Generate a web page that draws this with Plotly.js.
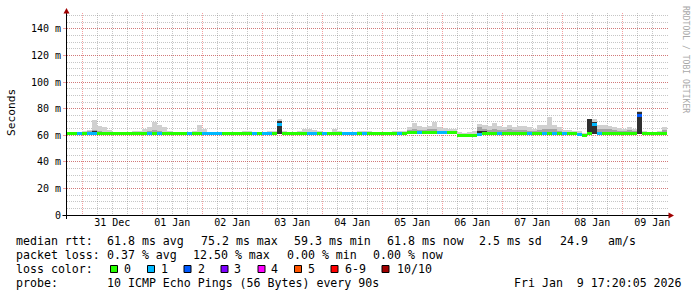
<!DOCTYPE html>
<html><head><meta charset="utf-8">
<script src="https://cdn.plot.ly/plotly-3.0.1.min.js"></script>
<style>html,body{margin:0;padding:0;background:#fff;}#chart{width:697px;height:297px;}</style>
</head><body><div id="chart"></div>
<script>
// ---- data (2-hour bins starting 2025-12-30 18:00) ----
const binStart = Date.UTC(2025, 11, 30, 18, 0, 0);
const binMs = 2 * 3600 * 1000;

const medianRtt = [
 61.5,61.5,61.5,61.5,61.5,61.5,61.5,61.5,61.5,61.5,
 61.5,61.5,61.5,61.5,61.5,61.5,61.5,61.5,61.5,61.5,
 61.5,61.5,61.5,61.5,61.5,61.5,61.5,61.5,61.5,61.5,
 61.5,61.5,61.5,61.5,61.5,61.5,61.5,61.5,61.5,61.5,
 61.5,61.5,68,61.5,61.5,61.5,61.5,61.5,61.5,61.5,
 61.5,61.5,61.5,61.5,61.5,61.5,61.5,61.5,61.5,61.5,
 61.5,61.5,61.5,61.5,61.5,61.5,61.5,61.5,62,62,
 62,62,62,62,62,62,62,62,59.5,59.5,
 59.5,60,60.5,61,61.5,61.5,61.5,61.5,61.5,61.5,
 61.5,61.5,61.5,61.5,61.5,61.5,61.5,61.5,61.5,61.5,
 61.5,61.5,60.5,59.5,61,68,61.5,61.5,61.5,61.5,
 61.5,61.5,61.5,61.5,75.2,61.5,61.5,61.5,61.5,61.5
];
const lossCount = [
 0,0,1,0,1,1,0,0,0,0,
 0,0,0,0,0,0,1,0,1,0,
 0,0,0,0,1,0,0,1,1,1,
 1,0,0,0,0,0,0,1,0,1,
 1,0,1,0,0,0,0,0,1,1,
 0,1,0,0,0,1,1,1,0,1,
 0,0,0,0,0,0,1,0,0,0,
 1,0,0,0,1,1,0,0,0,0,
 0,0,1,0,0,0,1,0,0,0,
 0,0,1,0,0,1,0,1,0,1,
 0,0,1,0,0,1,1,0,0,0,
 0,0,0,0,2,0,0,0,0,0
];
const pingMin = [
 61,61,61,61,61,61,61,61,61,61,
 61,61,61,61,61,61,61,61,61,61,
 61,61,61,61,61,61,61,61,61,61,
 61,61,61,61,61,61,61,61,61,61,
 61,61,61,61,61,61,61,61,61,61,
 61,61,61,61,61,61,61,61,61,61,
 61,61,61,61,61,61,61,61,61,61,
 61,61,61,61,61,61,61,61,59,59,
 59,59.5,60,60.5,61,61,61,61,61,61,
 61,61,61,61,61,61,61,61,61,61,
 61,61,60,59,61,61,61,61,61,61,
 61,61,61,61,61,61,61,61,61,61
];
const smokeMax = [
 null,null,62.5,63.5,64,71.5,67,66,64,null,
 null,null,null,63,63,65,66.5,70,68,66,
 63,null,null,null,null,63,67.5,65,null,null,
 null,null,null,null,null,63.5,63.5,null,null,null,
 63,63,72,63,null,null,63.5,64.5,64.5,64,
 63,null,null,64.5,63,null,null,null,63,63.5,
 63.5,null,null,null,null,63,63,63.5,66,69.5,
 67,66.5,67,70,66,65.5,65,64.5,62.5,62,
 62.5,63,68.5,68,67,69.5,67,66.5,68,66.5,
 67,67,66,65,67.5,68,73.5,68,66,64,
 64,63.5,63,62,72,72,68,67.5,67,66.5,
 65.5,65,66,65,78,63,null,null,63.5,66.5
];
const smokeMid = [
 null,null,null,null,63,64,63.5,null,null,null,
 null,null,null,null,null,null,63.5,64,63,null,
 null,null,null,null,null,null,null,null,null,null,
 null,null,null,null,null,null,null,null,null,null,
 null,null,70,null,null,null,null,null,null,null,
 null,null,null,null,null,null,null,null,null,null,
 null,null,null,null,null,null,null,null,64,64.5,
 64,64,64.5,65,63.5,63.5,63.5,63,null,null,
 null,null,66,65,64,64.5,64,64,64.5,64,
 64,64,63.5,63.5,64,64.5,65,64.5,63.5,null,
 null,null,null,null,70,70,65,64.5,64.5,64,
 63.5,63.5,64,63.5,76,null,null,null,null,64
];
const smokeDark = [
 null,null,null,null,null,63,null,null,null,null,
 null,null,null,null,null,null,null,null,null,null,
 null,null,null,null,null,null,null,null,null,null,
 null,null,null,null,null,null,null,null,null,null,
 null,null,71,null,null,null,null,null,null,null,
 null,null,null,null,null,null,null,null,null,null,
 null,null,null,null,null,null,null,null,null,null,
 null,null,null,null,null,null,null,null,null,null,
 null,null,63,63,null,null,null,null,null,null,
 null,null,null,null,null,null,null,null,null,null,
 null,null,null,null,72,70,null,null,null,null,
 null,null,null,null,77.5,null,null,null,null,null
];

const yTickVals = [0,20,40,60,80,100,120,140];
const yTickText = ['0','20 m','40 m','60 m','80 m','100 m','120 m','140 m'];

const lossLabels = ['0','1','2','3','4','5','6-9','10/10'];
const lossColors = ['#26ff00','#00b8ff','#0059ff','#7e00ff','#ff00ff','#ff5500','#ff0000','#a10000'];

const rttLabel = 'median rtt:';
const rttStats = ['61.8 ms avg','75.2 ms max','59.3 ms min','61.8 ms now','2.5 ms sd','24.9','am/s'];
const lossLabel = 'packet loss:';
const lossStats = ['0.37 % avg','12.50 % max','0.00 % min','0.00 % now'];
const colorLabel = 'loss color:';
const probeLabel = 'probe:';
const probeText = '10 ICMP Echo Pings (56 Bytes) every 90s';
const dateText = 'Fri Jan  9 17:20:05 2026';
const creditText = 'RRDTOOL / TOBI OETIKER';
const yTitle = 'Seconds';

// ---- helpers ----
const L = 67, T = 13, W = 601, H = 202;
const px = x => (x - L) / W;
const py = y => (T + H - y) / H;
const nb = s => s.replace(/ /g, '\u00a0');
const mono = 'DejaVu Sans Mono, monospace';

const xs = medianRtt.map((_, i) => binStart + i * binMs + binMs / 2);
const lossIdx = n => n === 0 ? 0 : n <= 5 ? n : n < 10 ? 6 : 7;

function smokeTrace(top, color) {
  return {
    type: 'bar', x: xs,
    y: top.map((v, i) => v == null ? null : v - pingMin[i]),
    base: pingMin, width: binMs,
    marker: {color: color, line: {width: 0}},
    hoverinfo: 'skip', showlegend: false
  };
}
const LINE_MS = 2.3;
const traces = [
  smokeTrace(smokeMax, '#d0d0d0'),
  smokeTrace(smokeMid, '#a4a4a4'),
  smokeTrace(smokeDark, '#303030'),
  {
    type: 'bar', x: xs,
    y: medianRtt.map(() => LINE_MS),
    base: medianRtt.map(v => v - LINE_MS / 2),
    width: binMs,
    marker: {color: lossCount.map(n => lossColors[lossIdx(n)]), line: {width: 0}},
    hoverinfo: 'skip', showlegend: false
  },
  {type: 'scatter', x: [], y: [], xaxis: 'x2', showlegend: false}
];

const xRange = [Date.UTC(2025, 11, 30, 17, 53), Date.UTC(2026, 0, 9, 18, 17)];
const majorGrid = 'rgba(230,0,0,0.38)';
const minorGrid = 'rgba(120,120,120,0.42)';

const ann = [];
function txt(text, x, y, size, extra) {
  ann.push(Object.assign({
    text: nb(text), xref: 'paper', yref: 'paper', x: px(x), y: py(y),
    xanchor: 'left', yanchor: 'middle', showarrow: false, borderpad: 0,
    font: {family: mono, size: size || 11.6, color: '#000'}
  }, extra || {}));
}
const rowY = [241.5, 255.2, 269.2, 283];
txt(rttLabel, 15, rowY[0]);
[106, 199.5, 292.5, 385.5, 478.5, 558.5, 606.5].forEach((x, i) => txt(rttStats[i], x, rowY[0]));
txt(lossLabel, 15, rowY[1]);
[106, 192, 285.5, 371.5].forEach((x, i) => txt(lossStats[i], x, rowY[1]));
txt(colorLabel, 15, rowY[2]);
const boxX = [110.5, 147.5, 184, 221, 258, 294.5, 331, 382];
const boxLabelX = [122.5, 160, 196.5, 233.5, 270, 306.5, 343.5, 395.5];
lossLabels.forEach((s, i) => txt(s, boxLabelX[i], rowY[2]));
txt(probeLabel, 15, rowY[3]);
txt(probeText, 106, rowY[3]);
txt(dateText, 512.5, rowY[3]);
txt(yTitle, 11, 113, 11.2, {xanchor: 'center', textangle: -90});
txt(creditText, 686, 59, 8.1, {xanchor: 'center', textangle: 90, font: {family: mono, size: 8.1, color: '#a8a8a8'}});

const shapes = [];
lossColors.forEach((c, i) => {
  shapes.push({type: 'rect', xref: 'paper', yref: 'paper',
    x0: px(boxX[i]), x1: px(boxX[i] + 7), y0: py(265.5), y1: py(272.5),
    fillcolor: c, line: {color: '#000', width: 1}});
});
// axis lines and arrows
shapes.push({type: 'line', xref: 'paper', yref: 'paper', x0: px(62.5), x1: px(669), y0: py(215.5), y1: py(215.5), line: {color: '#000', width: 1}});
shapes.push({type: 'line', xref: 'paper', yref: 'paper', x0: px(66.5), x1: px(66.5), y0: py(219), y1: py(12), line: {color: '#000', width: 1}});
shapes.push({type: 'path', xref: 'paper', yref: 'paper', fillcolor: '#a00000', line: {width: 0},
  path: `M ${px(668.5)} ${py(212.5)} L ${px(674)} ${py(215.5)} L ${px(668.5)} ${py(218.5)} Z`});
shapes.push({type: 'path', xref: 'paper', yref: 'paper', fillcolor: '#a00000', line: {width: 0},
  path: `M ${px(63.5)} ${py(13.5)} L ${px(66.5)} ${py(8)} L ${px(69.5)} ${py(13.5)} Z`});

const layout = {
  width: 697, height: 297,
  margin: {l: L, r: 697 - L - W, t: T, b: 297 - T - H, pad: 0},
  paper_bgcolor: '#fff', plot_bgcolor: '#fff',
  barmode: 'overlay', bargap: 0, showlegend: false, hovermode: false,
  font: {family: mono, size: 10, color: '#000'},
  xaxis: {
    type: 'date', range: xRange, tickmode: 'linear', tick0: '2025-12-31', dtick: 86400000,
    showticklabels: false, ticks: '', showline: false, zeroline: false,
    showgrid: true, gridcolor: majorGrid, griddash: '1px,1px', gridwidth: 1,
    minor: {tickmode: 'linear', tick0: '2025-12-31', dtick: 21600000, showgrid: true,
            gridcolor: minorGrid, griddash: '1px,1px', gridwidth: 1, ticks: ''},
    fixedrange: true, automargin: false
  },
  xaxis2: {
    type: 'date', range: xRange, overlaying: 'x', anchor: 'y', side: 'bottom',
    tickmode: 'linear', tick0: '2025-12-31 12:00', dtick: 86400000, tickformat: '%d %b',
    showgrid: false, showline: false, zeroline: false, ticks: '',
    tickfont: {family: mono, size: 10, color: '#000'}, automargin: false
  },
  yaxis: {
    range: [0, 152], tickmode: 'array', tickvals: yTickVals, ticktext: yTickText,
    showgrid: true, gridcolor: majorGrid, griddash: '1px,1px', gridwidth: 1,
    zeroline: false, showline: false, ticks: 'outside', ticklen: 3, tickcolor: majorGrid,
    tickfont: {family: mono, size: 10, color: '#000'},
    minor: {tickmode: 'linear', tick0: 0, dtick: 5, showgrid: true, gridcolor: minorGrid,
            griddash: '1px,1px', gridwidth: 1, ticks: ''},
    fixedrange: true, automargin: false
  },
  annotations: ann,
  shapes: shapes
};
Plotly.newPlot('chart', traces, layout, {staticPlot: true, displayModeBar: false});
</script></body></html>
